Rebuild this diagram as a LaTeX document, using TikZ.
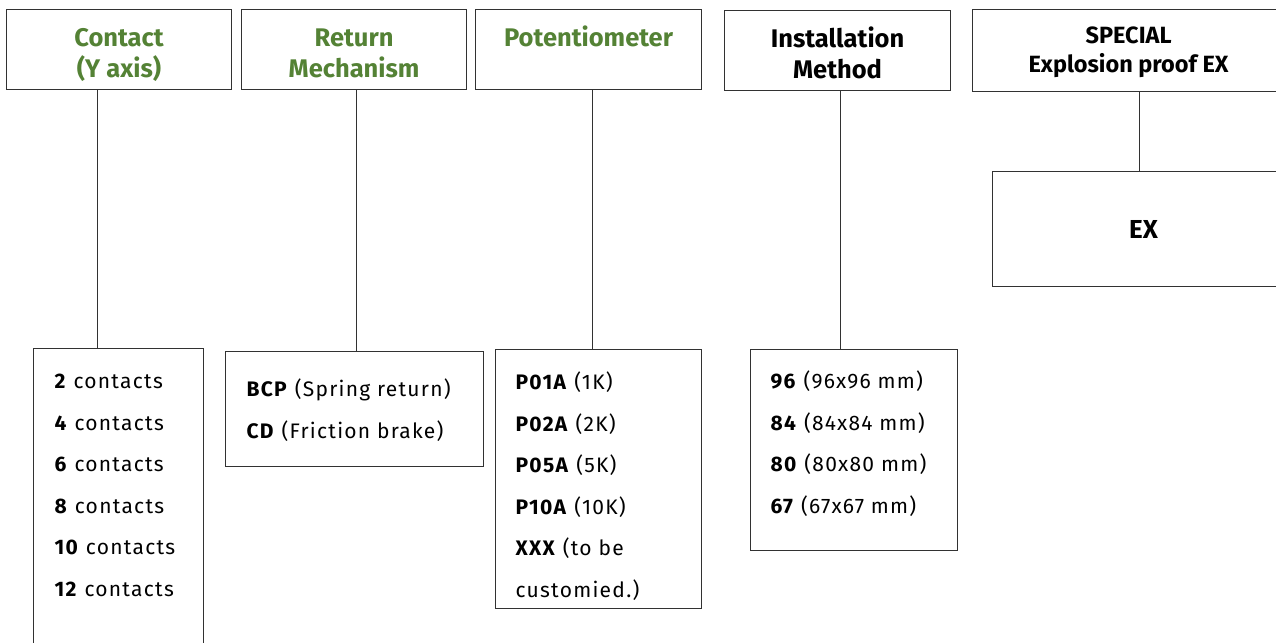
\documentclass[tikz,border=0pt]{standalone}
\usepackage{fontspec}
\setmainfont{Fira Sans}
\newfontfamily\itemfam[LetterSpace=6]{Fira Sans}
\usetikzlibrary{calc}

\definecolor{headgreen}{RGB}{84,130,53}
\definecolor{boxgray}{RGB}{50,50,50}

\newcommand{\headfont}{\fontsize{25.5bp}{31bp}\selectfont\bfseries}
\newcommand{\itemfont}{\itemfam\fontsize{21bp}{41.5bp}\selectfont}

\begin{document}
\begin{tikzpicture}[x=1bp, y=-1bp,
	head/.style={draw=boxgray, line width=1.2bp, rectangle, inner sep=0pt,
		anchor=north west, font=\headfont, text=headgreen},
	itembox/.style={draw=boxgray, line width=1.2bp, rectangle, inner sep=0pt,
		anchor=north west, font=\itemfont},
	link/.style={draw=boxgray, line width=1.2bp}]
	\def \headw {225bp}
	\def \headh {80bp}

	\useasboundingbox (0,0) rectangle (1276,643);
	\clip (0,0) rectangle (1276,643);

	% header row
	\node[head] (contact) at (6,9)
		{\parbox[c][\headh][t]{\headw}{\centering\rule{0pt}{37bp}Contact\\(Y axis)}};
	\node[head] (return)  at (241,9)
		{\parbox[c][\headh][t]{\headw}{\centering\rule{0pt}{37bp}Return\\Mechanism}};
	\node[head] (potent)  at (475,9)
		{\parbox[c][\headh][t]{226bp}{\centering\rule{0pt}{37bp}Potentiometer}};
	\node[head, text=black] (install) at (724,10)
		{\parbox[c][\headh][t]{226bp}{\centering\rule{0pt}{37bp}Installation\\Method}};
	\node[head, text=black, font=\fontsize{23.5bp}{29bp}\selectfont\bfseries] (special) at (972,9)
		{\parbox[c][82bp][t]{312bp}{\centering\rule{0pt}{34bp}SPECIAL\\Explosion proof EX}};

	% option boxes
	\node[itembox] (cbox) at (33,348)
		{\parbox[c][330bp][t]{170bp}{\raggedright\leftskip=21bp\rule{0pt}{40bp}%
			\textbf{2} contacts\\\textbf{4} contacts\\\textbf{6} contacts\\
			\textbf{8} contacts\\\textbf{10} contacts\\\textbf{12} contacts}};
	\node[itembox] (rbox) at (225,351)
		{\parbox[c][115bp][t]{258bp}{\raggedright\leftskip=21bp\rule{0pt}{45bp}%
			\textbf{BCP} (Spring return)\\\textbf{CD} (Friction brake)}};
	\node[itembox] (pbox) at (495,349)
		{\parbox[c][259bp][t]{206bp}{\raggedright\leftskip=20bp\rule{0pt}{40bp}%
			\textbf{P01A} (1K)\\\textbf{P02A} (2K)\\\textbf{P05A} (5K)\\
			\textbf{P10A} (10K)\\\textbf{XXX} (to be\\customied.)}};
	\node[itembox] (ibox) at (750,349)
		{\parbox[c][201bp][t]{207bp}{\raggedright\leftskip=20bp\rule{0pt}{39bp}%
			\textbf{96} (96x96 mm)\\\textbf{84} (84x84 mm)\\
			\textbf{80} (80x80 mm)\\\textbf{67} (67x67 mm)}};
	\node[itembox, font=\fontsize{26bp}{31bp}\selectfont\bfseries] (exbox) at (992,171)
		{\parbox[c][115bp][c]{302bp}{\centering EX}};

	% connectors
	\coordinate (ctop) at ([xshift=-21.5bp]contact.south);
	\coordinate (rtop) at ([xshift=2.5bp]return.south);
	\coordinate (ptop) at ([xshift=4bp]potent.south);
	\coordinate (itop) at ([xshift=3bp]install.south);
	\coordinate (stop) at ([xshift=11bp]special.south);
	\draw[link] (ctop) -- (ctop |- cbox.north);
	\draw[link] (rtop) -- (rtop |- rbox.north);
	\draw[link] (ptop) -- (ptop |- pbox.north);
	\draw[link] (itop) -- (itop |- ibox.north);
	\draw[link] (stop) -- (stop |- exbox.north);
\end{tikzpicture}
\end{document}
